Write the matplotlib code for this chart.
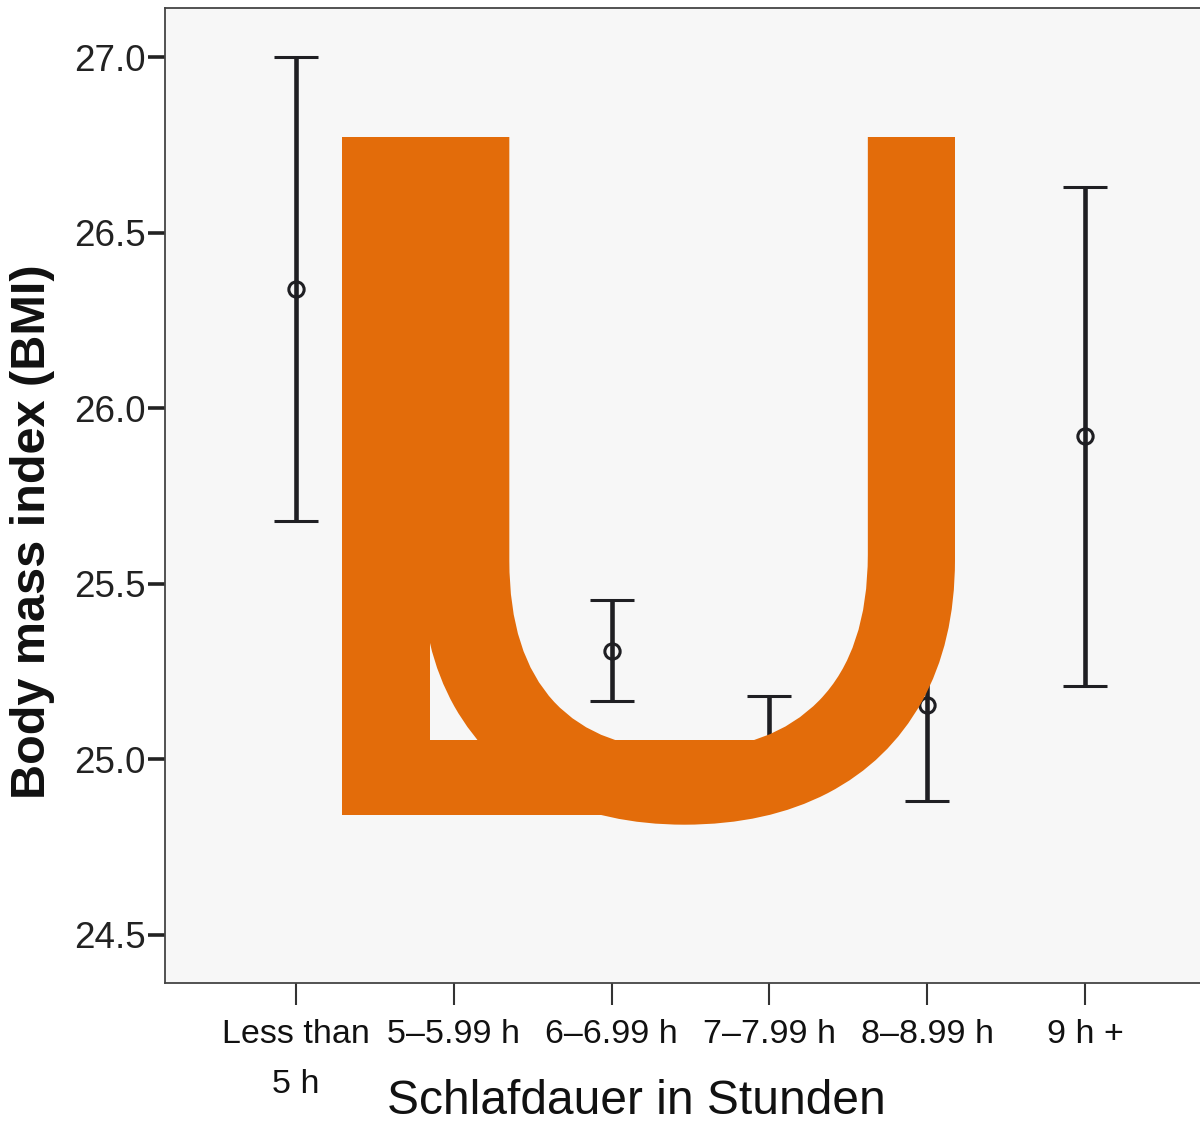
import matplotlib
matplotlib.use("Agg")
import matplotlib.pyplot as plt
import numpy as np
from matplotlib.textpath import TextPath
from matplotlib.patches import PathPatch
from matplotlib.font_manager import FontProperties
from matplotlib.transforms import Affine2D

# sleep duration groups
groups = ["Less than\n5 h", "5–5.99 h", "6–6.99 h", "7–7.99 h", "8–8.99 h", "9 h +"]
bmi_mean = [26.34, 25.70, 25.31, 25.04, 25.155, 25.92]
ci_low = [25.68, 25.45, 25.165, 24.90, 24.88, 25.21]
ci_high = [27.00, 25.95, 25.455, 25.18, 25.43, 26.63]
yticks = [24.5, 25.0, 25.5, 26.0, 26.5, 27.0]

dark = "#1f1f23"
orange = "#E36C0A"

plt.rcParams["font.family"] = ["Liberation Sans", "DejaVu Sans"]

fig = plt.figure(figsize=(12, 11.25), dpi=100)
W, H = 1200, 1125
ax = fig.add_axes([165 / W, 1 - 983 / H, 1051 / W, 975 / H])
ax.set_facecolor("#F7F7F7")

x = np.arange(len(groups))
m = np.array(bmi_mean)
yerr = [m - np.array(ci_low), np.array(ci_high) - m]
ax.errorbar(x, m, yerr=yerr, fmt="o", mfc="none", mec=dark, ms=11, mew=2.2,
            ecolor=dark, elinewidth=3.3, capsize=15.5, capthick=4, zorder=3)

ax.set_xlim(-0.83, 5.83)
ax.set_ylim(24.363, 27.14)
ax.set_xticks(x)
ax.set_xticklabels(groups, fontsize=24.5, linespacing=1.8)
ax.set_yticks(yticks)
ax.set_yticklabels(["%.1f" % v for v in yticks], fontsize=26.5)
ax.tick_params(axis="x", length=16, width=1.5, color="#333333", pad=10, labelcolor="#111111")
ax.tick_params(axis="y", length=12, width=2.6, color="#222222", pad=2, labelcolor="#222222")
for s in ax.spines.values():
    s.set_color("#444444")
    s.set_linewidth(1.3)

ax.set_ylabel("Body mass index (BMI)", fontsize=35, fontweight="bold", color="#111111")
ax.yaxis.set_label_coords((33 - 165) / 1051, (983 - 532) / 975)
ax.yaxis.label.set_va("center")
fig.text(636 / W, 1 - 1101 / H, "Schlafdauer in Stunden", fontsize=34.5, ha="center", va="center",
         color="#111111")

# big overlaid letters "L" and "U" (display pixel coordinates)
fp = FontProperties(family="Liberation Sans")
pL = TextPath((0, 0), "L", size=1, prop=fp)
pU = TextPath((0, 0), "U", size=1, prop=fp)
eL = pL.get_extents()
eU = pU.get_extents()
sy = 678 / eL.height
sx = sy * 0.953
base = H - 815
tL = Affine2D().scale(sx, sy).translate(342 - eL.x0 * sx, base)
tU = Affine2D().scale(sx, sy).translate(955 - eU.x1 * sx, base)
for p, t in [(pL, tL), (pU, tU)]:
    fig.add_artist(PathPatch(p, transform=t, facecolor=orange, edgecolor="none", zorder=5))

fig.savefig("out.png", dpi=100, facecolor="white")
